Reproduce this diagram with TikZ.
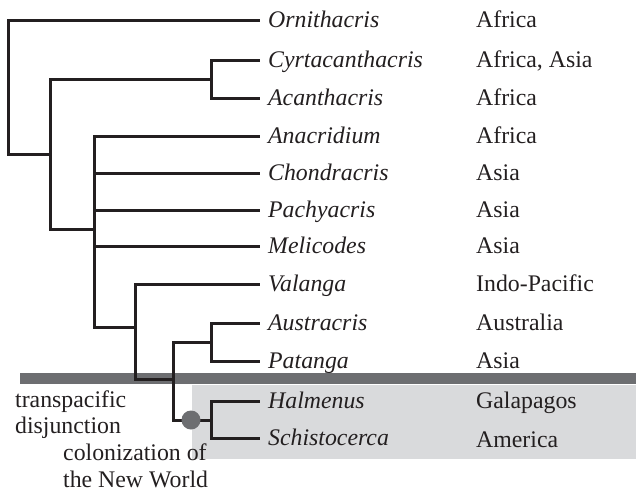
\documentclass[tikz,border=0pt]{standalone}
\usepackage{fontspec}
\setmainfont{Liberation Serif}
\definecolor{bargray}{HTML}{6D6E71}
\definecolor{boxgray}{HTML}{D9DADC}
\definecolor{ink}{HTML}{231F20}
\begin{document}
\begin{tikzpicture}[x=1pt,y=-1pt,
  branch/.style={draw=ink,line width=3pt,line cap=rect,line join=miter},
  taxon/.style={anchor=base west,inner sep=0pt,font=\fontsize{23.8}{26}\selectfont\itshape,text=ink},
  region/.style={anchor=base west,inner sep=0pt,font=\fontsize{23.8}{26}\selectfont,text=ink},
  note/.style={anchor=base west,inner sep=0pt,font=\fontsize{23.8}{26}\selectfont,text=ink,align=left}]
\useasboundingbox (0,0) rectangle (636,492);
% background shading
\fill[boxgray] (192,385) rectangle (636,459);
\fill[bargray] (20,373) rectangle (636,384);
% leaf end points
\foreach \i/\y in {1/21,2/61,3/99,4/136,5/173,6/210,7/246,8/284,9/323,10/361,11/401,12/438}
  \coordinate (L\i) at (258,\y);
% internal nodes
\coordinate (r) at (8,154);
\coordinate (n2) at (50,154);
\coordinate (n3) at (211,80);
\coordinate (n4) at (94,229);
\coordinate (n5) at (135,327);
\coordinate (n6) at (173,379);
\coordinate (n7) at (211,342);
\coordinate (n8) at (211,420);
\coordinate (dot) at (191,420);
% tree
\draw[branch] (L1) -| (r) -- (n2);
\draw[branch] (L2) -| (n3) |- (L3);
\draw[branch] (n3) -| (n2) |- (n4);
\draw[branch] (L4) -| (n4) |- (n5);
\draw[branch] (L5) -- (L5 -| n4);
\draw[branch] (L6) -- (L6 -| n4);
\draw[branch] (L7) -- (L7 -| n4);
\draw[branch] (L8) -| (n5) |- (n6);
\draw[branch] (n7) -| (n6) |- (dot);
\draw[branch] (L9) -| (n7) |- (L10);
\draw[branch] (L11) -| (n8) |- (L12);
\draw[branch] (dot) -- (n8);
\fill[bargray] (dot) circle (9.5);
% taxa
\node[taxon] (t1) at (268,28) {Ornithacris};
\node[taxon] (t2) at (268,68) {Cyrtacanthacris};
\node[taxon] (t3) at (268,106) {Acanthacris};
\node[taxon] (t4) at (268,143) {Anacridium};
\node[taxon] (t5) at (268,180) {Chondracris};
\node[taxon] (t6) at (268,217) {Pachyacris};
\node[taxon] (t7) at (268,253) {Melicodes};
\node[taxon] (t8) at (268,291) {Valanga};
\node[taxon] (t9) at (268,330) {Austracris};
\node[taxon] (t10) at (268,368) {Patanga};
\node[taxon] (t11) at (268,408) {Halmenus};
\node[taxon] (t12) at (268,445) {Schistocerca};
% regions
\node[region] (g1) at (476,28) {Africa};
\node[region] (g2) at (476,68) {Africa, Asia};
\node[region] (g3) at (476,106) {Africa};
\node[region] (g4) at (476,143) {Africa};
\node[region] (g5) at (476,180) {Asia};
\node[region] (g6) at (476,217) {Asia};
\node[region] (g7) at (476,253) {Asia};
\node[region] (g8) at (476,291) {Indo-Pacific};
\node[region] (g9) at (476,330) {Australia};
\node[region] (g10) at (476,368) {Asia};
\node[region] (g11) at (476,408) {Galapagos};
\node[region] (g12) at (476,447) {America};
% notes
\node[note] (a1) at (15,407) {transpacific};
\node[note] (a2) at (15,433) {disjunction};
\node[note] (b1) at (63,460) {colonization of};
\node[note] (b2) at (63,487) {the New World};
\end{tikzpicture}
\end{document}
